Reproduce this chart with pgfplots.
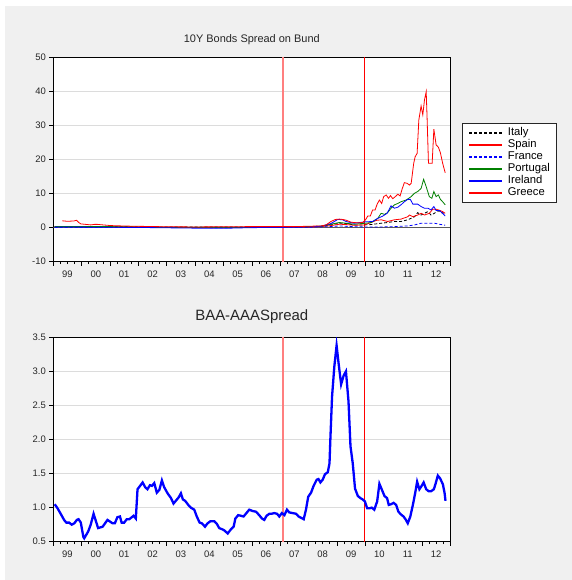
\documentclass[border=0pt]{standalone}
\usepackage{fontspec}
\setmainfont{Liberation Sans}
\usepackage{pgfplots}
\usepackage{pgfplotstable}
\pgfplotsset{compat=1.18}
\definecolor{bg}{HTML}{F0F0F0}
\definecolor{gridc}{HTML}{DCDCDC}
\definecolor{zerol}{HTML}{5A5A5A}
\definecolor{dgreen}{RGB}{0,128,0}
\definecolor{pinkline}{HTML}{FF7F7F}
\definecolor{pure red}{RGB}{255,0,0}
\definecolor{pure blue}{RGB}{0,0,255}

\pgfplotstableread{
t v
1999.05 1.05
1999.15 0.99
1999.26 0.91
1999.38 0.82
1999.46 0.78
1999.56 0.78
1999.65 0.75
1999.74 0.77
1999.83 0.82
1999.89 0.83
1999.97 0.78
2000.06 0.57
2000.09 0.55
2000.23 0.65
2000.32 0.75
2000.42 0.91
2000.58 0.70
2000.74 0.72
2000.91 0.82
2001.09 0.77
2001.17 0.77
2001.26 0.86
2001.35 0.87
2001.41 0.78
2001.50 0.78
2001.59 0.83
2001.68 0.83
2001.77 0.86
2001.83 0.88
2001.91 0.84
2001.97 1.27
2002.06 1.32
2002.15 1.37
2002.24 1.30
2002.32 1.27
2002.41 1.33
2002.48 1.32
2002.56 1.36
2002.65 1.22
2002.74 1.26
2002.83 1.40
2002.91 1.30
2003.03 1.21
2003.15 1.14
2003.24 1.06
2003.32 1.10
2003.42 1.15
2003.50 1.21
2003.57 1.12
2003.65 1.10
2003.76 1.04
2003.85 1.00
2003.97 0.97
2004.06 0.87
2004.16 0.78
2004.24 0.77
2004.35 0.72
2004.44 0.77
2004.54 0.80
2004.68 0.80
2004.77 0.76
2004.85 0.70
2004.97 0.68
2005.05 0.66
2005.15 0.62
2005.26 0.68
2005.36 0.72
2005.42 0.84
2005.52 0.89
2005.62 0.88
2005.71 0.87
2005.79 0.91
2005.91 0.97
2006.03 0.95
2006.15 0.94
2006.26 0.89
2006.36 0.84
2006.44 0.82
2006.52 0.88
2006.62 0.91
2006.70 0.91
2006.79 0.92
2006.89 0.91
2006.97 0.87
2007.06 0.92
2007.15 0.89
2007.24 0.97
2007.32 0.93
2007.44 0.92
2007.56 0.91
2007.65 0.87
2007.74 0.85
2007.83 0.83
2007.91 0.97
2007.99 1.16
2008.09 1.22
2008.18 1.32
2008.29 1.41
2008.35 1.42
2008.42 1.37
2008.50 1.41
2008.58 1.49
2008.68 1.52
2008.74 1.65
2008.77 2.00
2008.83 2.63
2008.91 3.07
2008.99 3.38
2009.06 3.12
2009.15 2.81
2009.24 2.94
2009.32 3.00
2009.41 2.56
2009.48 1.90
2009.56 1.65
2009.64 1.28
2009.74 1.17
2009.83 1.14
2009.91 1.12
2009.99 1.09
2010.07 0.99
2010.15 0.99
2010.23 1.00
2010.32 0.97
2010.42 1.09
2010.50 1.35
2010.59 1.26
2010.68 1.17
2010.77 1.14
2010.83 1.04
2010.91 1.05
2011.00 1.07
2011.09 1.04
2011.17 0.94
2011.26 0.90
2011.35 0.87
2011.42 0.83
2011.50 0.77
2011.59 0.87
2011.68 1.04
2011.76 1.21
2011.83 1.38
2011.91 1.27
2011.99 1.32
2012.06 1.37
2012.15 1.27
2012.24 1.24
2012.32 1.24
2012.42 1.27
2012.48 1.35
2012.56 1.47
2012.64 1.43
2012.74 1.34
2012.80 1.21
2012.83 1.10
}\baaaaa

\pgfplotstableread{
t v
1999.32 2.0
1999.45 1.9
1999.60 1.9
1999.72 1.95
1999.82 2.15
1999.90 1.5
1999.97 1.1
2000.15 0.95
2000.32 0.8
2000.45 0.95
2000.56 0.95
2000.75 0.8
2001.03 0.6
2001.40 0.5
2001.85 0.4
2002.30 0.35
2003.00 0.25
2004.00 0.2
2005.00 0.25
2006.00 0.3
2007.00 0.3
2007.50 0.3
2008.00 0.4
2008.44 0.5
2008.62 0.8
2008.79 1.8
2008.95 2.4
2009.09 2.5
2009.20 2.4
2009.32 2.2
2009.50 1.6
2009.73 1.4
2009.91 1.5
2010.01 2.3
2010.09 3.4
2010.18 3.4
2010.26 5.2
2010.35 5.2
2010.42 6.9
2010.50 8.1
2010.58 7.1
2010.65 9.1
2010.74 9.6
2010.82 8.6
2010.89 9.4
2010.97 8.5
2011.06 9.1
2011.15 9.8
2011.23 9.3
2011.30 11.3
2011.38 13.2
2011.48 13.0
2011.56 12.5
2011.62 13.0
2011.71 18.9
2011.76 20.8
2011.83 21.8
2011.89 31.6
2011.97 35.7
2012.03 33.1
2012.09 37.5
2012.15 39.9
2012.18 32.6
2012.23 18.9
2012.32 18.9
2012.36 18.9
2012.42 28.9
2012.50 24.3
2012.58 23.6
2012.65 22.0
2012.73 18.9
2012.82 16.1
}\greece

\pgfplotstableread{
t v
1999.05 0.3
2000.00 0.25
2001.00 0.3
2002.00 0.15
2003.00 0.1
2004.00 0.05
2005.00 0.05
2006.00 0.05
2007.00 0.05
2008.00 0.15
2008.44 0.3
2008.79 0.6
2009.09 1.0
2009.32 0.9
2009.60 0.7
2009.97 0.8
2010.21 1.5
2010.38 2.1
2010.56 2.3
2010.79 1.8
2011.03 2.3
2011.26 2.5
2011.50 3.2
2011.56 3.7
2011.68 3.2
2011.85 3.7
2011.97 4.2
2012.09 3.7
2012.26 4.2
2012.38 5.4
2012.50 5.4
2012.65 5.0
2012.73 4.7
2012.82 4.2
}\spain

\pgfplotstableread{
t v
1999.05 0.25
2000.00 0.3
2001.00 0.35
2002.00 0.25
2003.00 0.15
2004.00 0.15
2005.00 0.15
2006.00 0.2
2007.00 0.2
2008.00 0.3
2008.44 0.4
2008.79 0.8
2009.09 1.3
2009.32 1.2
2009.60 0.8
2009.97 0.8
2010.21 0.9
2010.56 1.3
2010.79 1.5
2011.03 1.8
2011.26 1.8
2011.50 2.3
2011.74 3.2
2011.85 4.4
2011.97 3.7
2012.09 4.2
2012.21 4.7
2012.32 3.7
2012.44 4.2
2012.56 5.0
2012.68 4.4
2012.82 4.2
}\italy

\pgfplotstableread{
t v
1999.05 0.05
2002.00 0.05
2005.00 0.0
2008.00 0.1
2008.79 0.3
2009.09 0.5
2009.50 0.3
2010.00 0.2
2010.56 0.2
2011.03 0.3
2011.50 0.5
2011.74 0.8
2011.97 1.3
2012.21 1.3
2012.44 1.3
2012.68 0.9
2012.82 0.7
}\france

\pgfplotstableread{
t v
1999.05 0.3
2000.00 0.3
2001.00 0.3
2002.00 0.2
2003.00 0.1
2004.00 0.1
2005.00 0.1
2006.00 0.15
2007.00 0.2
2008.00 0.3
2008.44 0.4
2008.79 1.0
2009.09 1.5
2009.32 1.3
2009.60 1.0
2010.01 1.3
2010.21 1.5
2010.44 2.7
2010.56 4.2
2010.68 3.9
2010.79 4.4
2010.91 5.7
2011.03 6.7
2011.15 7.1
2011.26 7.6
2011.44 8.1
2011.62 9.1
2011.74 10.1
2011.85 10.6
2011.97 11.5
2012.06 14.2
2012.15 12.0
2012.26 9.1
2012.35 8.6
2012.42 10.6
2012.50 9.1
2012.58 9.6
2012.65 8.3
2012.73 7.6
2012.82 6.7
}\portugal

\pgfplotstableread{
t v
1999.05 0.2
2000.00 0.15
2001.00 0.1
2002.00 0.05
2003.00 -0.05
2004.00 -0.15
2005.00 -0.2
2005.50 -0.1
2006.00 0.0
2007.00 0.05
2008.00 0.2
2008.44 0.4
2008.79 1.2
2009.03 2.4
2009.20 2.3
2009.32 1.8
2009.60 1.3
2010.01 1.7
2010.26 1.8
2010.44 2.7
2010.62 3.4
2010.77 4.2
2010.91 6.4
2011.03 5.7
2011.15 6.0
2011.26 6.7
2011.38 7.6
2011.50 8.3
2011.59 8.3
2011.68 6.9
2011.85 6.9
2011.97 6.2
2012.09 5.7
2012.21 5.7
2012.32 5.2
2012.42 6.2
2012.50 5.0
2012.62 5.0
2012.73 4.2
2012.82 3.4
}\ireland

\pgfplotsset{
  myaxis/.style={
    scale only axis, width=397bp, height=204.4bp,
    xmin=1999, xmax=2013,
    anchor=south west,
    axis line style={black, line width=0.8bp},
    axis background/.style={fill=white},
    tick align=outside, xtick pos=bottom, ytick pos=left,
    xtick={1999,2000,2001,2002,2003,2004,2005,2006,2007,2008,2009,2010,2011,2012,2013},
    xticklabels={},
    minor x tick num=3,
    major tick length=4bp, minor tick length=2.5bp,
    tick style={black, line width=0.6bp},
    extra x ticks={1999.5,2000.5,2001.5,2002.5,2003.5,2004.5,2005.5,2006.5,2007.5,2008.5,2009.5,2010.5,2011.5,2012.5},
    extra x tick labels={99,00,01,02,03,04,05,06,07,08,09,10,11,12},
    extra x tick style={tick style={draw=none}, xticklabel style={yshift=-2bp}},
    ymajorgrids, grid style={gridc, line width=1.2bp},
    tick label style={font=\fontsize{9.5}{10}\selectfont, text=black!85},
    /pgf/number format/assume math mode=true,
    clip mode=individual,
  }
}

\begin{document}
\begin{tikzpicture}
\fill[white] (0,0) rectangle (572bp,580bp);
\fill[bg] (5bp,0) rectangle (572bp,574bp);

% Top panel
\begin{axis}[myaxis, at={(53.3bp,318.3bp)},
  ymin=-10, ymax=50, ytick={-10,0,10,20,30,40,50},
  legend style={at={(axis description cs:1.0295,0.6786)}, anchor=north west,
    draw=black!85, line width=0.9bp, fill=white,
    font=\fontsize{11.3}{12}\selectfont, inner xsep=6bp, inner ysep=3.5bp,
    nodes={inner sep=1bp, text height=8bp, text depth=2bp},
    row sep=0bp, column sep=4bp},
  legend cell align=left,
  legend image code/.code={\draw[#1] (0bp,0bp) -- (33bp,0bp);},
]
\addlegendimage{black, line width=1.5bp, dash pattern=on 3bp off 2bp}
\addlegendentry{Italy}
\addlegendimage{pure red, line width=1.5bp}
\addlegendentry{Spain}
\addlegendimage{pure blue, line width=1.5bp, dash pattern=on 3bp off 2bp}
\addlegendentry{France}
\addlegendimage{dgreen, line width=1.5bp}
\addlegendentry{Portugal}
\addlegendimage{pure blue, line width=1.5bp}
\addlegendentry{Ireland}
\addlegendimage{pure red, line width=1.5bp}
\addlegendentry{Greece}
\addplot[pinkline, line width=1.8bp, forget plot] coordinates {(2007.10,-10) (2007.10,50)};
\addplot[pure red, line width=1.4bp, forget plot] coordinates {(2009.974,-10) (2009.974,50)};
\addplot[zerol, line width=0.9bp, forget plot] coordinates {(1999,0) (2013,0)};
\addplot[black, line width=0.8bp, dash pattern=on 3bp off 2bp, forget plot] table[x=t,y=v] {\italy};
\addplot[pure red, line width=0.8bp, forget plot] table[x=t,y=v] {\spain};
\addplot[pure blue, line width=0.8bp, dash pattern=on 3bp off 2bp, forget plot] table[x=t,y=v] {\france};
\addplot[dgreen, line width=0.8bp, forget plot] table[x=t,y=v] {\portugal};
\addplot[pure blue, line width=0.8bp, forget plot] table[x=t,y=v] {\ireland};
\addplot[pure red, line width=0.8bp, forget plot] table[x=t,y=v] {\greece};
\node[anchor=base, font=\fontsize{11}{13}\selectfont, text=black!85] at (rel axis cs:0.5,1) [yshift=15.3bp] {10Y Bonds Spread on Bund};
\end{axis}

% Bottom panel
\begin{axis}[myaxis, at={(53.3bp,38.3bp)},
  ymin=0.5, ymax=3.5, ytick={0.5,1.0,1.5,2.0,2.5,3.0,3.5},
  yticklabel style={/pgf/number format/.cd, fixed, fixed zerofill, precision=1},
]
\addplot[pinkline, line width=1.8bp, forget plot] coordinates {(2007.10,0.5) (2007.10,3.5)};
\addplot[pure red, line width=1.4bp, forget plot] coordinates {(2009.974,0.5) (2009.974,3.5)};
\addplot[pure blue, line width=2.3bp] table[x=t,y=v] {\baaaaa};
\node[anchor=base, font=\fontsize{15}{17}\selectfont, text=black!85] at (rel axis cs:0.5,1) [yshift=17.2bp] {BAA-AAASpread};
\end{axis}
\end{tikzpicture}
\end{document}
